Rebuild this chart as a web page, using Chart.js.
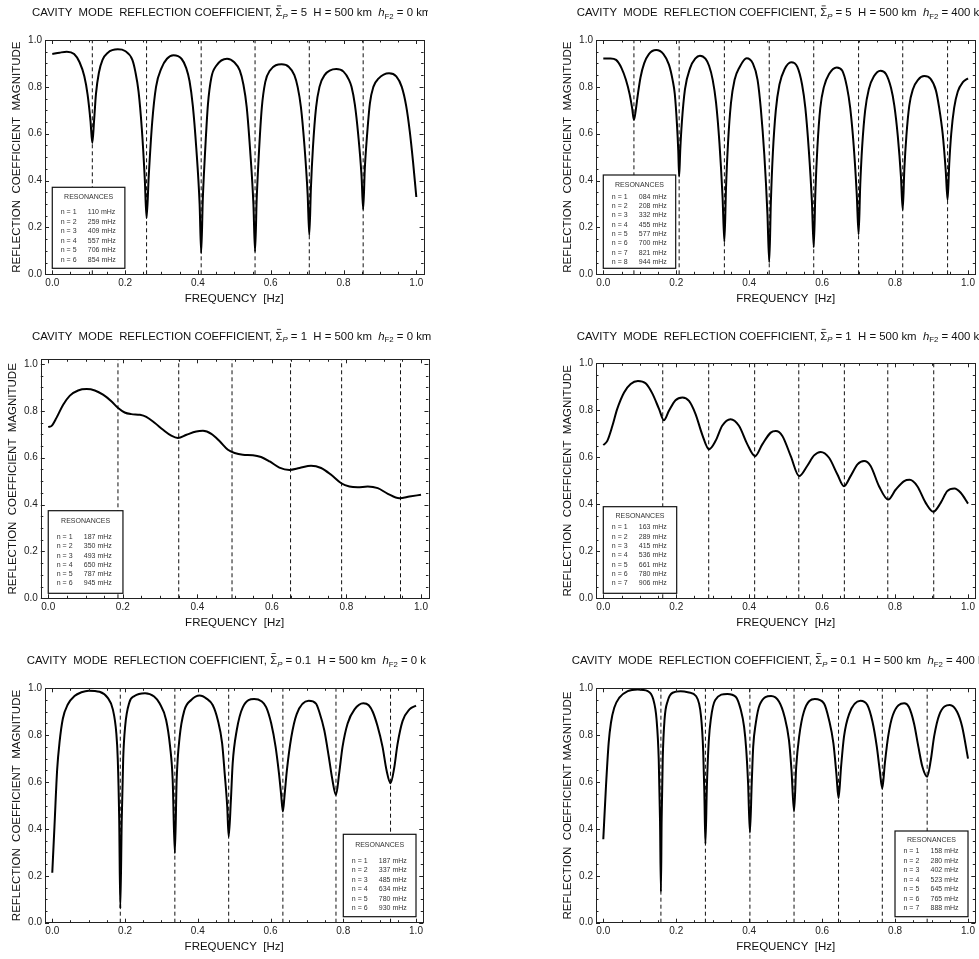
<!DOCTYPE html>
<html>
<head>
<meta charset="utf-8">
<script src="https://cdn.jsdelivr.net/npm/chart.js@4.4.1/dist/chart.umd.min.js"></script>
<style>
  body { margin: 0; background: #fff; width: 979px; height: 959px; position: relative; overflow: hidden; }
  canvas { position: absolute; }
</style>
</head>
<body>
<canvas id="p1" width="428" height="320" style="left:0;top:0"></canvas>
<canvas id="p2" width="439" height="320" style="left:540px;top:0"></canvas>
<canvas id="p3" width="431" height="320" style="left:0;top:320px"></canvas>
<canvas id="p4" width="439" height="320" style="left:540px;top:320px"></canvas>
<canvas id="p5" width="426" height="319" style="left:0;top:640px"></canvas>
<canvas id="p6" width="439" height="319" style="left:540px;top:640px"></canvas>
<script>
// Cavity mode reflection coefficient - six panels (Sigma_P = 5, 1, 0.1; hF2 = 0 / 400 km)

// ---- axis ticks ----
const xTickVals = [0, 0.2, 0.4, 0.6, 0.8, 1.0];
const yTickVals = [0, 0.2, 0.4, 0.6, 0.8, 1.0];
const minorTickVals = [0, 0.05, 0.1, 0.15, 0.2, 0.25, 0.3, 0.35, 0.4, 0.45, 0.5,
                       0.55, 0.6, 0.65, 0.7, 0.75, 0.8, 0.85, 0.9, 0.95, 1.0];

// ---- panel 1: Sigma_P = 5, hF2 = 0 km ----
const res1 = ['110', '259', '409', '557', '706', '854'];
const freq1 = [0.000, 0.020, 0.040, 0.060, 0.075, 0.088, 0.097, 0.105, 0.110, 0.115, 0.120, 0.128, 0.138, 0.152,
  0.180, 0.200, 0.220, 0.228, 0.237, 0.246, 0.254, 0.259, 0.265, 0.2745, 0.285, 0.300, 0.315,
  0.333, 0.355, 0.368, 0.377, 0.386, 0.3955, 0.4047, 0.409, 0.4135, 0.419, 0.4276, 0.437, 0.4505,
  0.480, 0.500, 0.515, 0.525, 0.534, 0.5435, 0.5525, 0.557, 0.5615, 0.567, 0.5755, 0.585, 0.598,
  0.630, 0.650, 0.665, 0.674, 0.683, 0.6925, 0.7015, 0.706, 0.7105, 0.716, 0.7245, 0.734, 0.748,
  0.780, 0.800, 0.815, 0.822, 0.831, 0.8405, 0.8495, 0.854, 0.8585, 0.864, 0.8725, 0.882, 0.896,
  0.925, 0.945, 0.960, 0.972, 0.982, 0.991, 1.000];
const refl1 = [0.940, 0.946, 0.950, 0.940, 0.905, 0.845, 0.767, 0.654, 0.560, 0.660, 0.770, 0.860, 0.915, 0.945,
  0.960, 0.953, 0.915, 0.866, 0.780, 0.620, 0.410, 0.240, 0.420, 0.650, 0.800, 0.880, 0.920,
  0.935, 0.920, 0.880, 0.825, 0.720, 0.540, 0.300, 0.090, 0.320, 0.500, 0.725, 0.840, 0.890,
  0.920, 0.905, 0.870, 0.810, 0.715, 0.530, 0.300, 0.097, 0.320, 0.500, 0.710, 0.820, 0.870,
  0.896, 0.885, 0.850, 0.800, 0.714, 0.553, 0.340, 0.168, 0.370, 0.540, 0.710, 0.800, 0.850,
  0.876, 0.865, 0.830, 0.800, 0.726, 0.594, 0.420, 0.277, 0.450, 0.580, 0.730, 0.800, 0.835,
  0.858, 0.845, 0.800, 0.720, 0.610, 0.480, 0.330];

// ---- panel 2: Sigma_P = 5, hF2 = 400 km ----
const res2 = ['084', '208', '332', '455', '577', '700', '821', '944'];
const freq2 = [0.000, 0.020, 0.035, 0.050, 0.062, 0.072, 0.079, 0.084, 0.089, 0.095, 0.102, 0.112, 0.125,
  0.145, 0.165, 0.180, 0.190, 0.196, 0.202, 0.2055, 0.208, 0.211, 0.2155, 0.224, 0.238, 0.252,
  0.265, 0.280, 0.290, 0.300, 0.309, 0.3185, 0.327, 0.332, 0.3365, 0.342, 0.350, 0.360, 0.374,
  0.393, 0.410, 0.423, 0.432, 0.4415, 0.450, 0.455, 0.4595, 0.465, 0.473, 0.483, 0.497,
  0.515, 0.532, 0.545, 0.554, 0.5635, 0.572, 0.577, 0.5815, 0.587, 0.595, 0.605, 0.619,
  0.640, 0.655, 0.668, 0.677, 0.6865, 0.695, 0.700, 0.7045, 0.710, 0.718, 0.728, 0.742,
  0.760, 0.775, 0.789, 0.798, 0.8075, 0.816, 0.821, 0.8255, 0.831, 0.839, 0.849, 0.863,
  0.880, 0.897, 0.912, 0.921, 0.9305, 0.939, 0.944, 0.9485, 0.954, 0.962, 0.972, 0.986, 1.000];
const refl2 = [0.921, 0.921, 0.915, 0.880, 0.830, 0.770, 0.710, 0.659, 0.700, 0.770, 0.840, 0.900, 0.940,
  0.957, 0.940, 0.895, 0.830, 0.770, 0.640, 0.530, 0.417, 0.530, 0.650, 0.790, 0.880, 0.920,
  0.933, 0.920, 0.890, 0.830, 0.735, 0.560, 0.330, 0.139, 0.370, 0.560, 0.730, 0.830, 0.885,
  0.922, 0.900, 0.830, 0.705, 0.510, 0.260, 0.051, 0.310, 0.520, 0.700, 0.810, 0.875,
  0.905, 0.885, 0.810, 0.710, 0.530, 0.310, 0.115, 0.350, 0.540, 0.710, 0.800, 0.855,
  0.883, 0.870, 0.800, 0.710, 0.550, 0.340, 0.171, 0.380, 0.550, 0.700, 0.790, 0.845,
  0.869, 0.855, 0.795, 0.720, 0.590, 0.420, 0.275, 0.450, 0.590, 0.720, 0.790, 0.830,
  0.846, 0.835, 0.785, 0.710, 0.600, 0.440, 0.317, 0.470, 0.600, 0.710, 0.780, 0.820, 0.836];

// ---- panel 3: Sigma_P = 1, hF2 = 0 km ----
const res3 = ['187', '350', '493', '650', '787', '945'];
const freq3 = [0.000, 0.009, 0.022, 0.040, 0.058, 0.080, 0.103, 0.125, 0.147, 0.170, 0.1875, 0.205,
  0.223, 0.246, 0.263, 0.286, 0.308, 0.330, 0.348, 0.371, 0.397, 0.415, 0.4375, 0.460, 0.482,
  0.500, 0.522, 0.549, 0.571, 0.594, 0.620, 0.647, 0.674, 0.705, 0.732, 0.759, 0.786, 0.808,
  0.830, 0.857, 0.884, 0.911, 0.942, 0.969, 1.000];
const refl3 = [0.731, 0.736, 0.770, 0.826, 0.865, 0.887, 0.893, 0.887, 0.869, 0.840, 0.812, 0.793,
  0.786, 0.783, 0.774, 0.748, 0.719, 0.694, 0.684, 0.698, 0.712, 0.715, 0.702, 0.670, 0.634,
  0.620, 0.613, 0.611, 0.603, 0.584, 0.558, 0.548, 0.556, 0.566, 0.556, 0.527, 0.491, 0.477,
  0.474, 0.477, 0.470, 0.446, 0.427, 0.434, 0.442];

// ---- panel 4: Sigma_P = 1, hF2 = 400 km ----
const res4 = ['163', '289', '415', '536', '661', '780', '906'];
const freq4 = [0.000, 0.011, 0.025, 0.038, 0.057, 0.075, 0.095, 0.116, 0.134, 0.153, 0.166, 0.180,
  0.198, 0.217, 0.235, 0.253, 0.271, 0.290, 0.308, 0.326, 0.349, 0.372, 0.395, 0.416, 0.436,
  0.459, 0.473, 0.491, 0.514, 0.537, 0.559, 0.578, 0.596, 0.619, 0.642, 0.660, 0.678, 0.697,
  0.715, 0.733, 0.756, 0.781, 0.802, 0.825, 0.840, 0.861, 0.884, 0.905, 0.925, 0.943, 0.963,
  0.980, 1.000];
const refl4 = [0.652, 0.670, 0.734, 0.805, 0.876, 0.912, 0.925, 0.915, 0.873, 0.805, 0.758, 0.798,
  0.843, 0.855, 0.840, 0.784, 0.698, 0.634, 0.670, 0.734, 0.762, 0.734, 0.655, 0.605, 0.655,
  0.705, 0.712, 0.691, 0.605, 0.520, 0.563, 0.608, 0.623, 0.598, 0.527, 0.477, 0.520, 0.570,
  0.584, 0.563, 0.477, 0.420, 0.463, 0.499, 0.504, 0.477, 0.406, 0.368, 0.406, 0.456, 0.467,
  0.449, 0.403];

// ---- panel 5: Sigma_P = 0.1, hF2 = 0 km ----
const res5 = ['187', '337', '485', '634', '780', '930'];
const freq5 = [0.000, 0.006, 0.0135, 0.020, 0.029, 0.043, 0.061, 0.080, 0.100, 0.130, 0.152, 0.1665,
  0.176, 0.180, 0.184, 0.187, 0.191, 0.195, 0.2005, 0.212, 0.226, 0.255, 0.280, 0.295, 0.313,
  0.324, 0.331, 0.337, 0.342, 0.350, 0.363, 0.382, 0.405, 0.425, 0.441, 0.455, 0.467, 0.474,
  0.481, 0.485, 0.491, 0.496, 0.507, 0.524, 0.555, 0.575, 0.588, 0.602, 0.614, 0.623, 0.629,
  0.634, 0.639, 0.645, 0.657, 0.672, 0.705, 0.725, 0.734, 0.748, 0.760, 0.769, 0.780, 0.789,
  0.798, 0.812, 0.831, 0.855, 0.870, 0.881, 0.894, 0.908, 0.919, 0.930, 0.940, 0.949, 0.963,
  0.982, 1.000];
const refl5 = [0.213, 0.410, 0.655, 0.770, 0.870, 0.932, 0.967, 0.983, 0.990, 0.985, 0.960, 0.910,
  0.810, 0.700, 0.440, 0.061, 0.440, 0.700, 0.840, 0.940, 0.967, 0.979, 0.965, 0.936, 0.865,
  0.750, 0.610, 0.296, 0.610, 0.790, 0.905, 0.950, 0.969, 0.955, 0.929, 0.865, 0.765, 0.637,
  0.495, 0.367, 0.520, 0.680, 0.820, 0.920, 0.954, 0.945, 0.920, 0.850, 0.750, 0.640, 0.550,
  0.474, 0.550, 0.650, 0.790, 0.890, 0.947, 0.935, 0.900, 0.820, 0.710, 0.620, 0.545, 0.640,
  0.750, 0.850, 0.910, 0.936, 0.928, 0.900, 0.840, 0.750, 0.650, 0.595, 0.660, 0.760, 0.860,
  0.910, 0.926];

// ---- panel 6: Sigma_P = 0.1, hF2 = 400 km ----
const res6 = ['158', '280', '402', '523', '645', '765', '888'];
const freq6 = [0.000, 0.0074, 0.0148, 0.021, 0.030, 0.044, 0.067, 0.094, 0.122, 0.137, 0.146, 0.152,
  0.1555, 0.158, 0.160, 0.163, 0.168, 0.1766, 0.190, 0.212, 0.235, 0.254, 0.268, 0.274, 0.277,
  0.280, 0.284, 0.289, 0.295, 0.307, 0.340, 0.363, 0.377, 0.386, 0.392, 0.397, 0.402, 0.407,
  0.411, 0.418, 0.429, 0.460, 0.482, 0.497, 0.509, 0.516, 0.523, 0.529, 0.537, 0.550, 0.580,
  0.605, 0.619, 0.631, 0.639, 0.645, 0.652, 0.660, 0.674, 0.705, 0.724, 0.738, 0.750, 0.758,
  0.765, 0.772, 0.781, 0.794, 0.825, 0.838, 0.852, 0.864, 0.875, 0.888, 0.898, 0.907, 0.921,
  0.950, 0.970, 0.984, 1.000];
const refl6 = [0.356, 0.583, 0.768, 0.853, 0.917, 0.960, 0.988, 0.995, 0.988, 0.953, 0.868, 0.697,
  0.440, 0.132, 0.440, 0.700, 0.868, 0.946, 0.981, 0.987, 0.982, 0.967, 0.880, 0.730, 0.560,
  0.336, 0.580, 0.770, 0.870, 0.950, 0.976, 0.964, 0.908, 0.836, 0.737, 0.595, 0.384, 0.595,
  0.750, 0.850, 0.930, 0.967, 0.943, 0.879, 0.780, 0.652, 0.474, 0.666, 0.794, 0.900, 0.954,
  0.936, 0.865, 0.765, 0.637, 0.531, 0.666, 0.794, 0.890, 0.947, 0.929, 0.858, 0.750, 0.650,
  0.573, 0.680, 0.794, 0.886, 0.936, 0.920, 0.850, 0.750, 0.665, 0.623, 0.694, 0.794, 0.886,
  0.929, 0.900, 0.836, 0.700];

const FONT = '"Liberation Sans", Arial, Helvetica, sans-serif';

// Title with the Sigma-bar and subscripts, left aligned and clipped by the canvas
const titlePlugin = {
  id: 'panelTitle',
  afterDraw(chart, args, o) {
    const ctx = chart.ctx;
    let x = o.x;
    const y = o.y;
    const put = (txt, font, dy) => {
      ctx.font = font;
      ctx.fillText(txt, x, y + (dy || 0));
      x += ctx.measureText(txt).width;
    };
    ctx.save();
    ctx.fillStyle = '#111';
    ctx.textAlign = 'left';
    ctx.textBaseline = 'alphabetic';
    put('CAVITY  MODE  REFLECTION COEFFICIENT, ', '11.4px ' + FONT);
    const sx = x;
    put('\u03A3', '11.4px ' + FONT);
    ctx.fillRect(sx + 1.5, y - 10.8, x - sx - 3, 0.8);
    put('P', 'italic 7.8px ' + FONT, 2.5);
    put(' = ' + o.sigma + '  H = 500 km  ', '11.4px ' + FONT);
    put('h', 'italic 11.4px ' + FONT);
    put('F2', '7.8px ' + FONT, 2.5);
    put(' = ' + o.hf2 + ' km', '11.4px ' + FONT);
    ctx.restore();
  }
};

// Frame with inward major/minor ticks on all four sides
const framePlugin = {
  id: 'frame',
  afterDatasetsDraw(chart) {
    const { ctx, chartArea: a, scales: { x, y } } = chart;
    ctx.save();
    ctx.strokeStyle = '#222';
    ctx.lineWidth = 1;
    ctx.strokeRect(Math.round(a.left) + 0.5, Math.round(a.top) + 0.5,
      Math.round(a.right - a.left), Math.round(a.bottom - a.top));
    ctx.beginPath();
    minorTickVals.forEach((v, i) => {
      const len = i % 4 === 0 ? 4 : 2.5;
      const px = Math.round(x.getPixelForValue(v)) + 0.5;
      ctx.moveTo(px, a.bottom); ctx.lineTo(px, a.bottom - len);
      ctx.moveTo(px, a.top); ctx.lineTo(px, a.top + len);
      if (v <= y.max) {
        const py = Math.round(y.getPixelForValue(v)) + 0.5;
        ctx.moveTo(a.left, py); ctx.lineTo(a.left + len, py);
        ctx.moveTo(a.right, py); ctx.lineTo(a.right - len, py);
      }
    });
    ctx.stroke();
    ctx.restore();
  }
};

// "RESONANCES" box
const boxPlugin = {
  id: 'resBox',
  afterDatasetsDraw(chart, args, o) {
    const { ctx, chartArea: a, scales: { x } } = chart;
    const left = o.side === 'left' ? x.getPixelForValue(0) : x.getPixelForValue(1) - o.w;
    const bottom = a.bottom - o.gap;
    const top = bottom - o.h;
    ctx.save();
    ctx.fillStyle = '#fff';
    ctx.fillRect(left, top, o.w, o.h);
    ctx.strokeStyle = '#111';
    ctx.lineWidth = 1.2;
    ctx.strokeRect(left, top, o.w, o.h);
    ctx.fillStyle = '#333';
    ctx.font = '7px ' + FONT;
    ctx.textBaseline = 'middle';
    ctx.textAlign = 'center';
    ctx.fillText('RESONANCES', left + o.w / 2, top + o.headY);
    ctx.textAlign = 'left';
    o.res.forEach((r, i) => {
      const ty = top + o.rowY + i * o.step;
      ctx.fillText('n = ' + (i + 1), left + 8.5, ty);
      ctx.fillText(r + ' mHz', left + 35.5, ty);
    });
    ctx.restore();
  }
};

function makePanel(id, freq, refl, res, sigma, hf2, yLabel, g, box) {
  const curve = freq.map((f, i) => ({ x: f, y: refl[i] }));
  const resLines = res.map(r => ({
    data: [{ x: Number(r) / 1000, y: 0 }, { x: Number(r) / 1000, y: g.yMax }],
    borderColor: '#111',
    borderWidth: 1,
    borderDash: [4, 3],
    pointRadius: 0,
    order: 2
  }));

  new Chart(document.getElementById(id), {
    type: 'line',
    data: {
      datasets: [{
        data: curve,
        borderColor: '#000',
        borderWidth: 2,
        pointRadius: 0,
        cubicInterpolationMode: 'monotone',
        order: 0
      }, ...resLines]
    },
    options: {
      responsive: false,
      animation: false,
      events: [],
      layout: { autoPadding: false, padding: { top: g.top, right: g.right, left: 0, bottom: 0 } },
      plugins: {
        legend: { display: false },
        tooltip: { enabled: false },
        panelTitle: { x: g.titleX, y: g.titleY, sigma: sigma, hf2: hf2 },
        resBox: Object.assign({ res: res }, box)
      },
      scales: {
        x: {
          type: 'linear',
          min: -0.02,
          max: 1.02,
          afterBuildTicks: s => { s.ticks = xTickVals.map(v => ({ value: v })); },
          afterFit: s => { s.height = g.xAxisH; },
          grid: { display: false, drawTicks: false },
          border: { display: false },
          ticks: {
            font: { family: FONT, size: 10 },
            color: '#222',
            padding: 3,
            maxRotation: 0,
            callback: v => v.toFixed(1)
          },
          title: {
            display: true,
            text: 'FREQUENCY  [Hz]',
            font: { family: FONT, size: 11.5 },
            color: '#111',
            padding: { top: 0, bottom: g.xTitlePad }
          }
        },
        y: {
          min: 0,
          max: g.yMax,
          afterBuildTicks: s => { s.ticks = yTickVals.map(v => ({ value: v })); },
          afterFit: s => { s.width = g.left; },
          grid: { display: false, drawTicks: false },
          border: { display: false },
          ticks: {
            font: { family: FONT, size: 10 },
            color: '#222',
            padding: 3,
            callback: v => v.toFixed(1)
          },
          title: {
            display: true,
            text: yLabel,
            font: { family: FONT, size: 11.5 },
            color: '#111',
            padding: { top: g.yTitlePad, bottom: 0 }
          }
        }
      }
    },
    plugins: [titlePlugin, framePlugin, boxPlugin]
  });
}

const yLab = 'REFLECTION  COEFFICIENT  MAGNITUDE';

makePanel('p1', freq1, refl1, res1, '5', '0', yLab,
  { left: 45, right: 4.4, top: 40, xAxisH: 45.7, yMax: 1.0, titleX: 32, titleY: 16.3, xTitlePad: 14.1, yTitlePad: 10.4 },
  { side: 'left', w: 72.6, h: 81, gap: 6, headY: 9.4, rowY: 25, step: 9.5 });
makePanel('p2', freq2, refl2, res2, '5', '400', yLab,
  { left: 56, right: 3.7, top: 40, xAxisH: 45.7, yMax: 1.0, titleX: 36.7, titleY: 16.3, xTitlePad: 14.1, yTitlePad: 21.1 },
  { side: 'left', w: 72.4, h: 93.3, gap: 6, headY: 10, rowY: 21.7, step: 9.37 });
makePanel('p3', freq3, refl3, res3, '1', '0', yLab,
  { left: 40.8, right: 1.9, top: 39.3, xAxisH: 41.7, yMax: 1.02, titleX: 32, titleY: 19.7, xTitlePad: 9.8, yTitlePad: 6.4 },
  { side: 'left', w: 74.7, h: 82.6, gap: 5, headY: 10.6, rowY: 26.6, step: 9.2 });
makePanel('p4', freq4, refl4, res4, '1', '400', yLab,
  { left: 56, right: 3.7, top: 43.3, xAxisH: 41.7, yMax: 1.0, titleX: 36.7, titleY: 19.7, xTitlePad: 9.8, yTitlePad: 21.1 },
  { side: 'left', w: 73.4, h: 86.6, gap: 5, headY: 9.6, rowY: 20.6, step: 9.33 });
makePanel('p5', freq5, refl5, res5, '0.1', '0', yLab,
  { left: 45, right: 2.4, top: 48.3, xAxisH: 36.3, yMax: 1.0, titleX: 26.7, titleY: 24, xTitlePad: 5.4, yTitlePad: 10.4 },
  { side: 'right', w: 72.7, h: 82.4, gap: 6, headY: 11, rowY: 26.7, step: 9.46 });
makePanel('p6', freq6, refl6, res6, '0.1', '400', 'REFLECTION  COEFFICIENT MAGNITUDE',
  { left: 56, right: 3.7, top: 48.3, xAxisH: 36.3, yMax: 1.0, titleX: 31.7, titleY: 24, xTitlePad: 5.4, yTitlePad: 21.1 },
  { side: 'right', w: 73, h: 85.7, gap: 6, headY: 9.3, rowY: 20.3, step: 9.5 });
</script>
</body>
</html>
